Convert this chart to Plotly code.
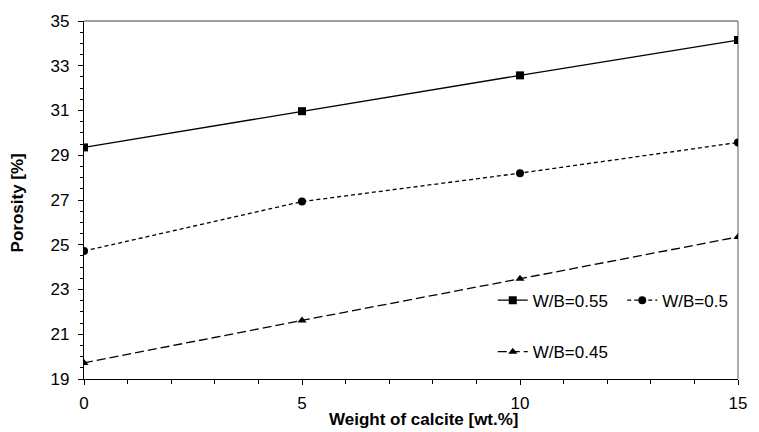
import plotly.graph_objects as go

x_vals = [0, 5, 10, 15]
wb055 = [29.35, 30.97, 32.57, 34.15]
wb050 = [24.72, 26.93, 28.2, 29.57]
wb045 = [19.72, 21.62, 23.48, 25.35]
names = ["W/B=0.55", "W/B=0.5", "W/B=0.45"]
x_title = "Weight of calcite [wt.%]"
y_title = "Porosity [%]"

FONT = "Liberation Sans, Arial, sans-serif"

fig = go.Figure()
fig.add_trace(go.Scatter(x=x_vals, y=wb055, name=names[0], mode="lines+markers",
                         line=dict(color="black", width=1.3),
                         marker=dict(symbol="square", size=8, color="black"),
                         legend="legend", showlegend=True))
fig.add_trace(go.Scatter(x=x_vals, y=wb050, name=names[1], mode="lines+markers",
                         line=dict(color="black", width=1.3, dash="4px,3px"),
                         marker=dict(symbol="circle", size=8, color="black"),
                         legend="legend2", showlegend=True))
fig.add_trace(go.Scatter(x=x_vals, y=wb045, name=names[2], mode="lines+markers",
                         line=dict(color="black", width=1.3, dash="9px,4px"),
                         marker=dict(symbol="triangle-up", size=8, color="black"),
                         legend="legend3", showlegend=True))

leg_common = dict(font=dict(family=FONT, size=17, color="black"), bgcolor="rgba(0,0,0,0)",
                  itemwidth=30, xanchor="left", yanchor="middle", tracegroupgap=0)

fig.update_layout(
    width=759, height=432,
    showlegend=True,
    margin=dict(l=84, r=21, t=15, b=53),
    paper_bgcolor="white", plot_bgcolor="white",
    font=dict(family=FONT, size=17, color="black"),
    legend=dict(x=0.625, y=0.219, **leg_common),
    legend2=dict(x=0.823, y=0.219, **leg_common),
    legend3=dict(x=0.625, y=0.075, **leg_common),
    xaxis=dict(range=[0, 15], tickvals=[0, 5, 10, 15], showgrid=False, zeroline=False,
               showline=True, linecolor="black", linewidth=1.3,
               ticks="outside", ticklen=5, tickcolor="black", tickwidth=1,
               tickfont=dict(size=17), ticklabelstandoff=3,
               minor=dict(dtick=1, ticks="outside", ticklen=4, tickcolor="black", showgrid=False)),
    yaxis=dict(range=[19, 35], tickvals=[19, 21, 23, 25, 27, 29, 31, 33, 35], showgrid=False,
               zeroline=False, showline=True, linecolor="black", linewidth=1.3,
               ticks="outside", ticklen=5, tickcolor="black", tickwidth=1,
               tickfont=dict(size=17), ticklabelstandoff=5,
               minor=dict(dtick=0.5, ticks="outside", ticklen=3, tickcolor="black", showgrid=False)),
)

fig.add_annotation(text="<b>" + x_title + "</b>", xref="paper", yref="paper",
                   x=0.52, y=-0.1126, xanchor="center", yanchor="middle", showarrow=False,
                   font=dict(size=17, family=FONT, color="black"))
fig.add_annotation(text="<b>" + y_title + "</b>", xref="paper", yref="paper",
                   x=-0.1017, y=0.4918, xanchor="center", yanchor="middle", showarrow=False,
                   textangle=-90, font=dict(size=17, family=FONT, color="black"))

fig.add_shape(type="line", xref="paper", yref="paper", x0=0, x1=1, y0=1, y1=1,
              line=dict(color="#808080", width=1.3), layer="below")
fig.add_shape(type="line", xref="paper", yref="paper", x0=1, x1=1, y0=0, y1=1,
              line=dict(color="#808080", width=1.3), layer="below")

fig.write_html("out.html")
